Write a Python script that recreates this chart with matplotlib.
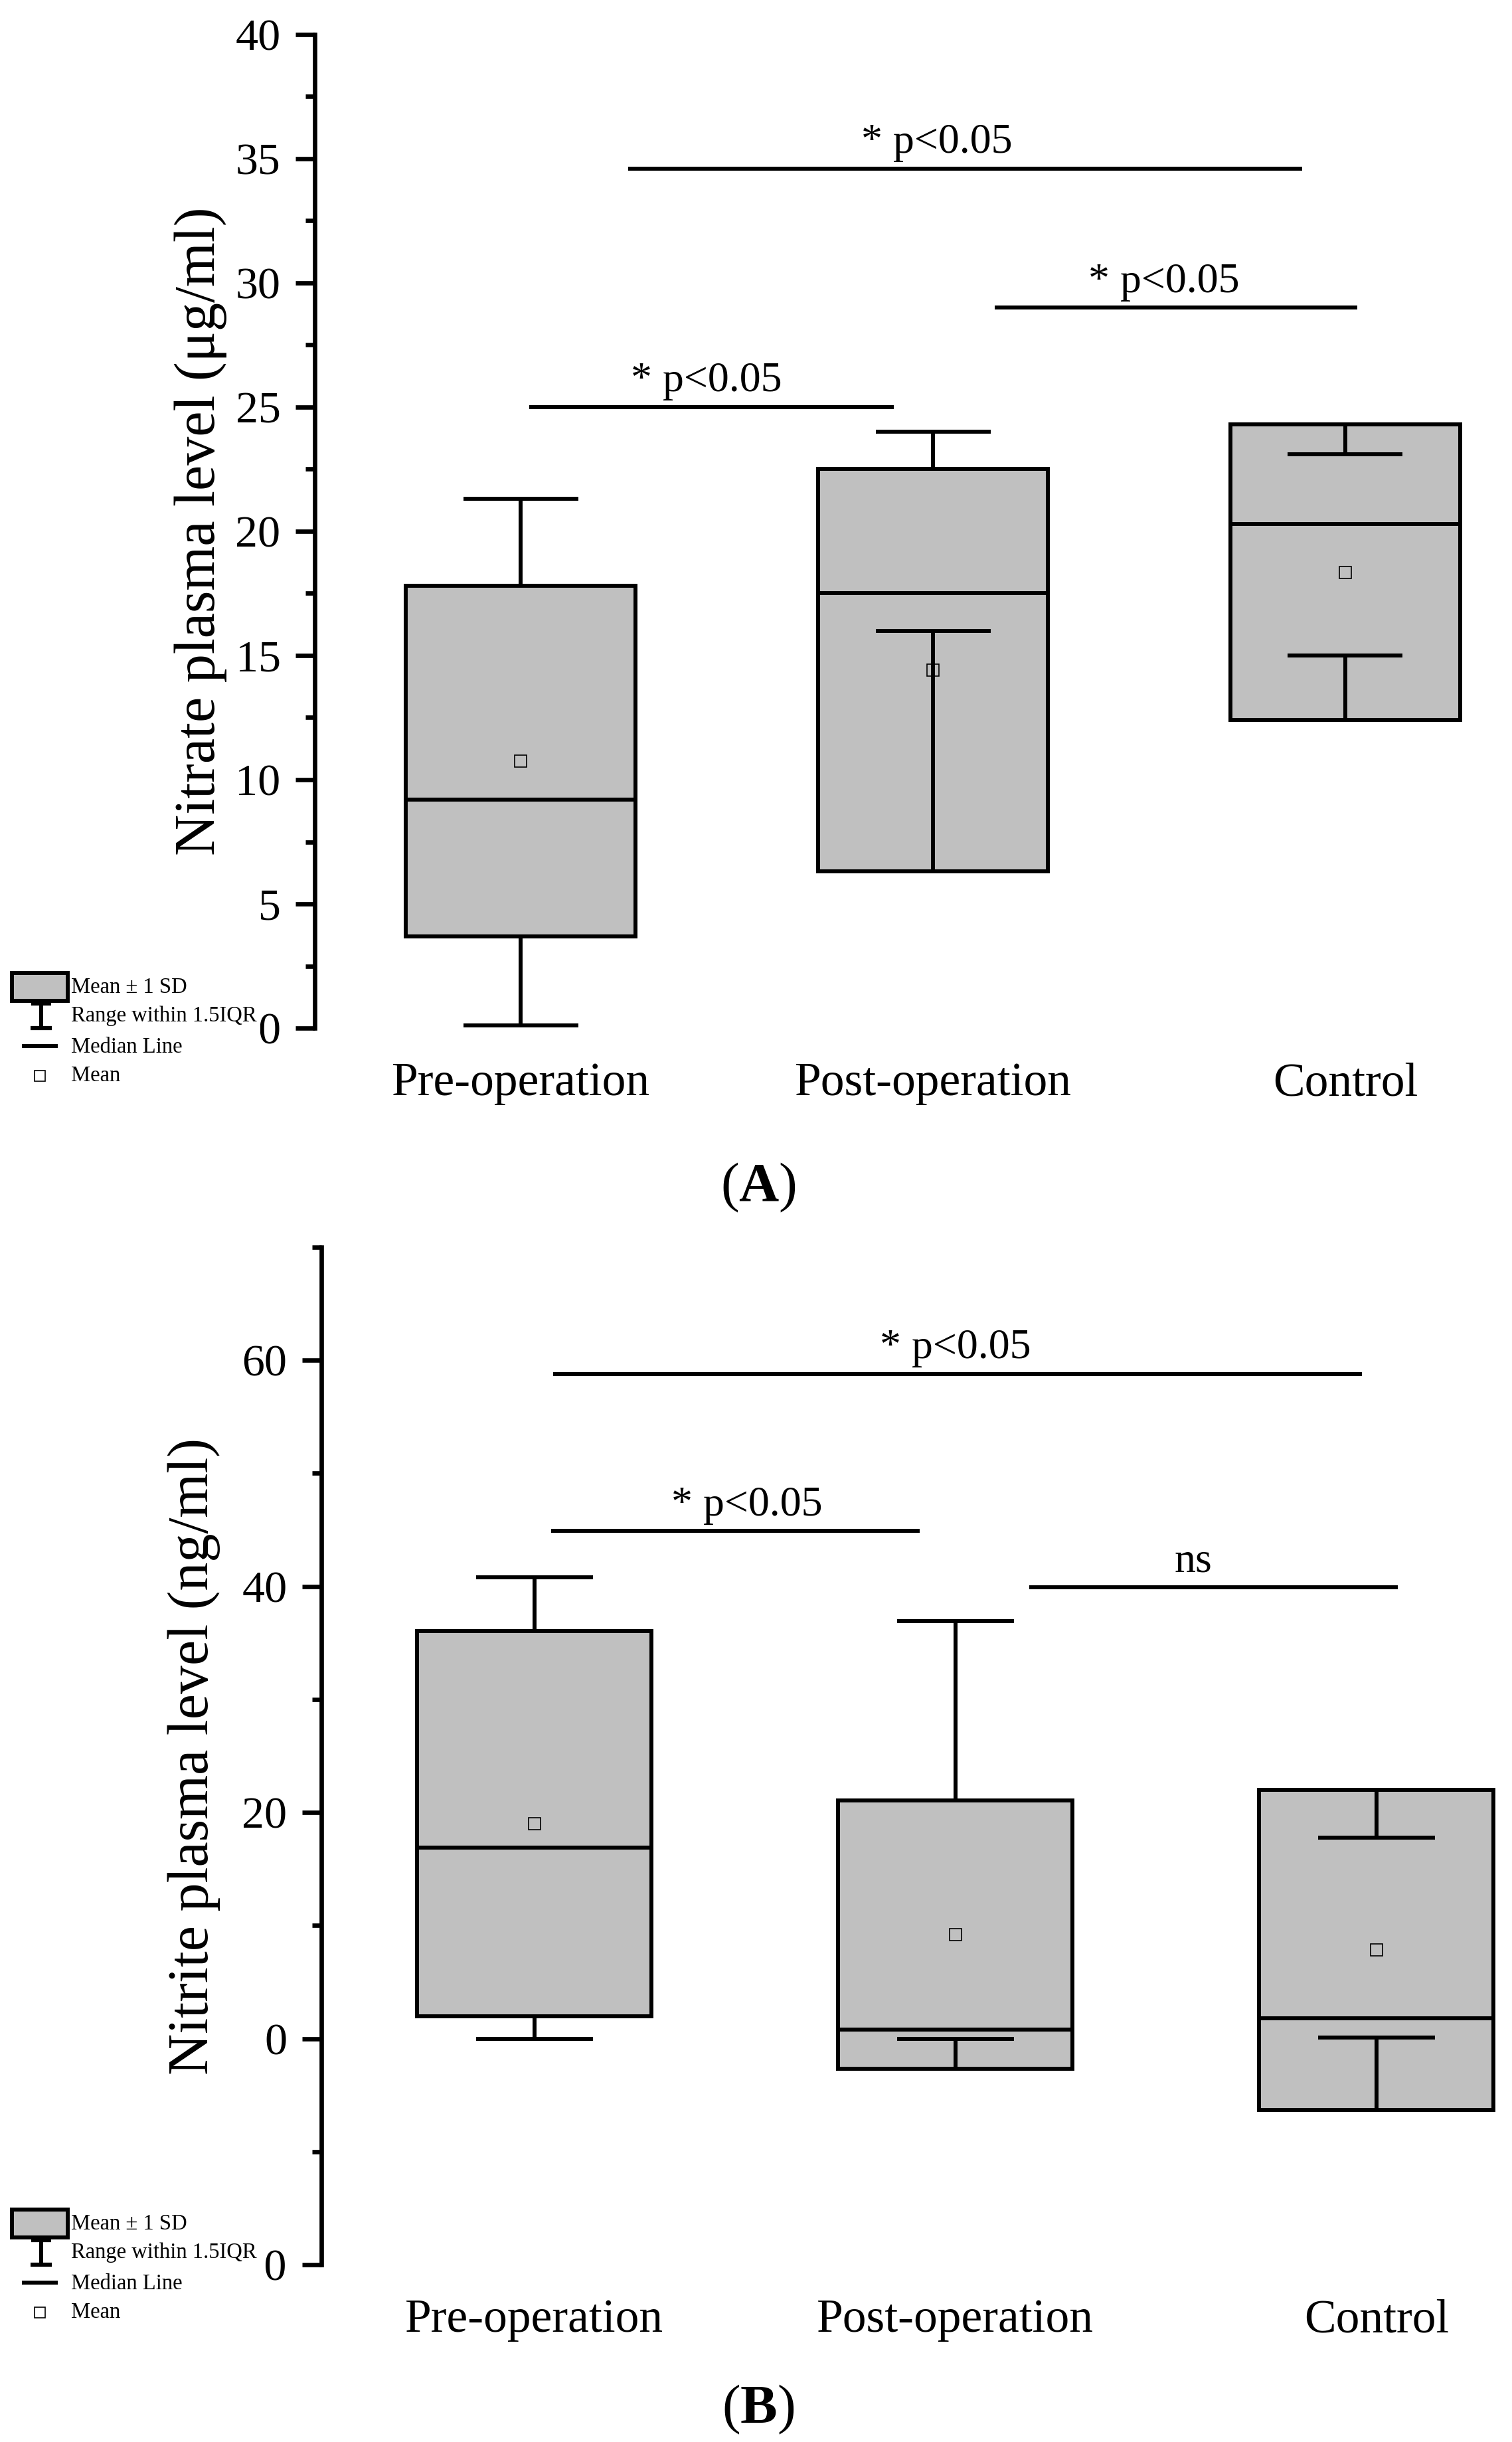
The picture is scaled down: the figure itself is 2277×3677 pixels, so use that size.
import numpy as np
import matplotlib
matplotlib.use("Agg")
import matplotlib.pyplot as plt
from matplotlib.patches import Rectangle
from matplotlib.ticker import MultipleLocator

plt.rcParams['font.family'] = ['Liberation Serif', 'DejaVu Serif']
plt.rcParams['mathtext.fontset'] = 'custom'
plt.rcParams['mathtext.rm'] = 'Liberation Serif'
plt.rcParams['mathtext.bf'] = 'Liberation Serif:bold'

groups = ['Pre-operation', 'Post-operation', 'Control']

# (A) nitrate, ug/ml  -- box = mean +/- 1 SD, whiskers = range within 1.5IQR
nitrate_mean = [10.75, 14.4, 18.35]
nitrate_sd = [7.05, 8.1, 5.95]
nitrate_median = [9.2, 17.5, 20.3]
nitrate_whisk_lo = [0.1, 16.0, 15.0]
nitrate_whisk_hi = [21.3, 24.0, 23.1]

nitrate_sig_x0 = [1.02, 2.15, 1.26]
nitrate_sig_x1 = [1.905, 3.03, 2.895]
nitrate_sig_y = [25.0, 29.0, 34.6]
nitrate_sig_txt = ['* p<0.05', '* p<0.05', '* p<0.05']
nitrate_sig_tx = [1.45, 2.56, 2.01]

# (B) nitrite, ng/ml
nitrite_mean = [19.0, 9.2, 7.85]
nitrite_sd = [17.05, 11.85, 14.15]
nitrite_median = [16.9, 0.8, 1.8]
nitrite_whisk_lo = [0.0, 0.0, 0.1]
nitrite_whisk_hi = [40.8, 36.9, 17.8]

nitrite_sig_x0 = [1.045, 1.04, 2.175]
nitrite_sig_x1 = [2.965, 1.915, 3.05]
nitrite_sig_y = [58.8, 44.9, 39.9]
nitrite_sig_txt = ['* p<0.05', '* p<0.05', 'ns']
nitrite_sig_tx = [2.0, 1.505, 2.565]

W, H = 2277, 3677
LW = 4.3
GREY = '#c0c0c0'

fig = plt.figure(figsize=(W / 100, H / 100), dpi=100)


def draw_panel(ax, mean, sd, med, wlo, whi, sx0, sx1, sy, stxt, stx):
    x = np.arange(1, len(groups) + 1)
    mean = np.array(mean)
    sd = np.array(sd)
    lo = mean - sd
    hi = mean + sd
    bw = 0.557
    ax.bar(x, 2 * sd, bottom=lo, width=bw, color=GREY, edgecolor='black',
           linewidth=LW, zorder=2)
    # whiskers from box edge to whisker end
    ax.vlines(x, hi, whi, color='black', lw=LW, zorder=3)
    ax.vlines(x, lo, wlo, color='black', lw=LW, zorder=3)
    ax.hlines(whi, x - bw / 4, x + bw / 4, color='black', lw=LW, zorder=3)
    ax.hlines(wlo, x - bw / 4, x + bw / 4, color='black', lw=LW, zorder=3)
    ax.hlines(med, x - bw / 2, x + bw / 2, color='black', lw=LW, zorder=3)
    ax.plot(x, mean, 's', ms=13, mfc='none', mec='black', mew=1.2, zorder=4)

    # significance bars
    ax.hlines(sy, sx0, sx1, color='black', lw=LW, zorder=3)
    for tx, ty, t in zip(stx, sy, stxt):
        ax.annotate(t, xy=(tx, ty), xytext=(0, 17), textcoords='offset points',
                    ha='center', va='baseline', fontsize=46)

    for s in ['top', 'right', 'bottom']:
        ax.spines[s].set_visible(False)
    ax.spines['left'].set_linewidth(4.8)
    ax.set_xticks(x, groups)
    ax.tick_params(axis='x', length=0, pad=37, labelsize=51.5)
    ax.tick_params(axis='y', which='major', length=21, width=4.8, pad=16,
                   labelsize=49, direction='out')
    ax.tick_params(axis='y', which='minor', length=10, width=4.8,
                   direction='out')
    ax.set_facecolor('none')


def draw_key(top_px, right_px):
    lax = fig.add_axes([0, 1 - (top_px + 195) / H, right_px / W, 195 / H],
                       zorder=5)
    lax.set_xlim(0, right_px)
    lax.set_ylim(195, 0)
    lax.set_xticks([])
    lax.set_yticks([])
    for s in lax.spines.values():
        s.set_visible(False)
    lax.set_facecolor('white')
    lax.add_patch(Rectangle((18, 15), 84, 42, fc=GREY, ec='black', lw=4.3))
    lax.plot([47, 77], [61, 61], color='black', lw=4.5, solid_capstyle='butt')
    lax.plot([62, 62], [61, 98], color='black', lw=4.3, solid_capstyle='butt')
    lax.plot([46, 78], [98, 98], color='black', lw=4.5, solid_capstyle='butt')
    lax.plot([33, 87], [125, 125], color='black', lw=4.3, solid_capstyle='butt')
    lax.plot([60], [170], 's', ms=12, mfc='none', mec='black', mew=1.2)
    for ty, t in zip([37, 80, 127, 170],
                     ['Mean ± 1 SD', 'Range within 1.5IQR', 'Median Line', 'Mean']):
        lax.text(107, ty, t, fontsize=23.5, va='center', ha='left')


# panel A
axA = fig.add_axes([474 / W, 1 - 1548 / H, 1738 / W, 1496 / H])
draw_panel(axA, nitrate_mean, nitrate_sd, nitrate_median, nitrate_whisk_lo,
           nitrate_whisk_hi, nitrate_sig_x0, nitrate_sig_x1, nitrate_sig_y,
           nitrate_sig_txt, nitrate_sig_tx)
axA.set_xlim(0.5, 3.3)
axA.set_ylim(0, 40)
axA.yaxis.set_major_locator(MultipleLocator(5))
axA.yaxis.set_minor_locator(MultipleLocator(2.5))
axA.set_ylabel('Nitrate plasma level (μg/ml)', fontsize=62, va='center')
axA.yaxis.set_label_coords(-0.099, 0.5)

# panel B
axB = fig.add_axes([484 / W, 1 - 3410 / H, 1779 / W, 1532 / H])
draw_panel(axB, nitrite_mean, nitrite_sd, nitrite_median, nitrite_whisk_lo,
           nitrite_whisk_hi, nitrite_sig_x0, nitrite_sig_x1, nitrite_sig_y,
           nitrite_sig_txt, nitrite_sig_tx)
axB.set_xlim(0.494, 3.3)
axB.set_ylim(-20, 70)
axB.yaxis.set_major_locator(MultipleLocator(20))
axB.yaxis.set_minor_locator(MultipleLocator(10))
axB.set_ylabel('Nitrite plasma level (ng/ml)', fontsize=62, va='center')
axB.yaxis.set_label_coords(-0.108, 0.5)

draw_key(1450, 392)
draw_key(3312, 400)

fig.text(1142 / W, 1 - 1788 / H, r'($\mathbf{A}$)', fontsize=60,
         ha='center', va='center')
fig.text(1142 / W, 1 - 3628 / H, r'($\mathbf{B}$)', fontsize=60,
         ha='center', va='center')

fig.savefig('out.png', dpi=100, facecolor='white')
